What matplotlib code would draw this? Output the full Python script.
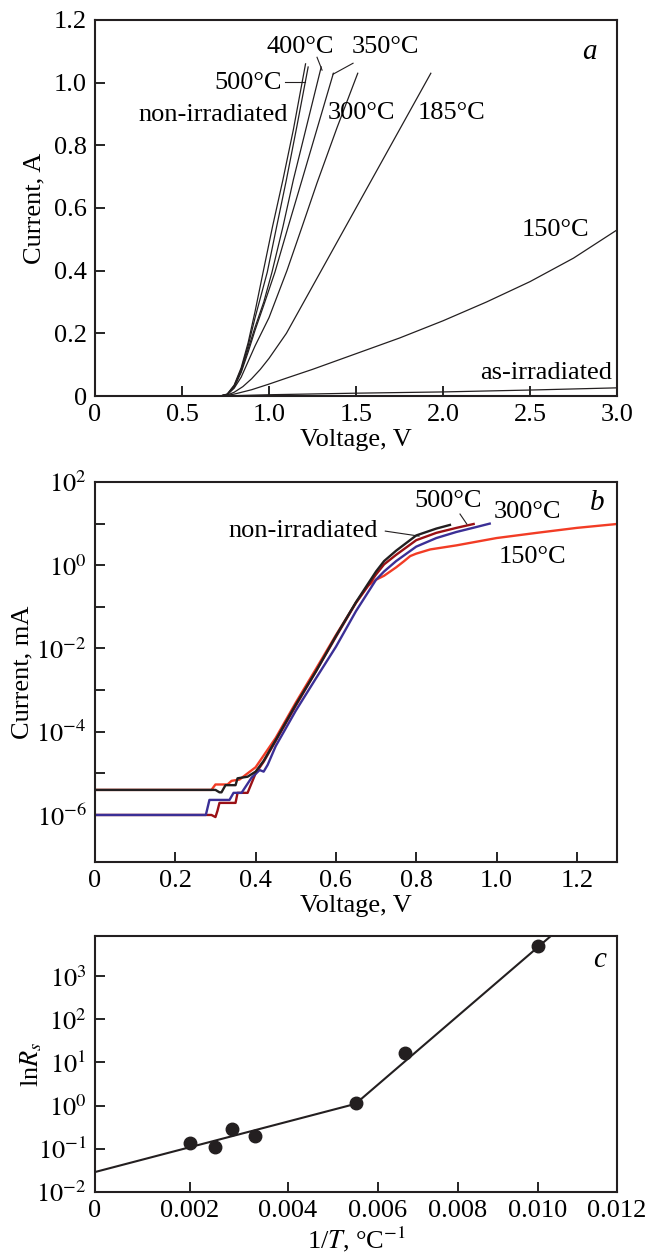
import numpy as np
import matplotlib
matplotlib.use("Agg")
import matplotlib.pyplot as plt
from matplotlib.ticker import FixedLocator, FuncFormatter, NullLocator

plt.rcParams['font.family'] = ['Liberation Serif', 'DejaVu Serif']
plt.rcParams['mathtext.fontset'] = 'stix'
plt.rcParams['font.size'] = 19

# ---- panel a: linear I-V, current in A ----
v_nonirr = [0, 0.72, 0.76, 0.80, 0.84, 0.88, 0.92, 0.966, 1.02, 1.08, 1.14, 1.21]
i_nonirr = [0, 0, 0.006, 0.035, 0.09, 0.17, 0.27, 0.395, 0.54, 0.69, 0.85, 1.06]
v_500 = [0, 0.72, 0.76, 0.80, 0.84, 0.88, 0.92, 0.99, 1.04, 1.10, 1.16, 1.225]
i_500 = [0, 0, 0.006, 0.033, 0.085, 0.16, 0.25, 0.395, 0.53, 0.69, 0.86, 1.05]
v_400 = [0, 0.72, 0.76, 0.80, 0.84, 0.88, 0.92, 0.97, 1.017, 1.08, 1.14, 1.22, 1.30]
i_400 = [0, 0, 0.005, 0.03, 0.08, 0.15, 0.22, 0.30, 0.395, 0.54, 0.69, 0.87, 1.05]
v_350 = [0, 0.72, 0.76, 0.80, 0.84, 0.88, 0.92, 0.97, 1.034, 1.11, 1.19, 1.28, 1.37]
i_350 = [0, 0, 0.005, 0.028, 0.075, 0.14, 0.21, 0.29, 0.395, 0.54, 0.69, 0.86, 1.03]
v_300 = [0, 0.72, 0.76, 0.80, 0.84, 0.88, 0.92, 1.0, 1.103, 1.19, 1.276, 1.39, 1.51]
i_300 = [0, 0, 0.004, 0.025, 0.06, 0.11, 0.16, 0.25, 0.40, 0.54, 0.68, 0.855, 1.03]
v_185 = [0, 0.72, 0.76, 0.80, 0.85, 0.90, 0.95, 1.0, 1.1, 1.2, 1.3, 1.4, 1.5, 1.62, 1.75, 1.85, 1.93]
i_185 = [0, 0, 0.003, 0.012, 0.03, 0.055, 0.085, 0.12, 0.2, 0.3, 0.4, 0.5, 0.6, 0.72, 0.85, 0.95, 1.03]
v_150 = [0, 0.72, 0.76, 0.80, 0.90, 1.0, 1.1, 1.25, 1.5, 1.75, 2.0, 2.25, 2.5, 2.75, 3.0]
i_150 = [0, 0, 0.002, 0.006, 0.02, 0.038, 0.057, 0.085, 0.135, 0.185, 0.24, 0.30, 0.365, 0.44, 0.53]
v_asirr = [0, 0.72, 0.76, 1.0, 1.5, 2.0, 2.5, 3.0]
i_asirr = [0, 0, 0.0005, 0.004, 0.009, 0.013, 0.019, 0.026]

# ---- panel b: semilog I-V, current in mA ----
vb_nonirr = [0, 0.30, 0.31, 0.315, 0.325, 0.35, 0.355, 0.38, 0.40, 0.42, 0.45,
             0.50, 0.55, 0.60, 0.65, 0.70, 0.72, 0.75, 0.80, 0.85, 0.884]
ib_nonirr = [4.0e-6, 4.0e-6, 3.5e-6, 3.5e-6, 5.2e-6, 5.2e-6, 7.6e-6, 8.3e-6, 1.1e-5, 2.0e-5, 6.3e-5,
             4.5e-4, 2.8e-3, 2.0e-2, 0.13, 0.71, 1.26, 2.24, 5.2, 7.6, 9.3]
vb_500 = [0, 0.29, 0.30, 0.305, 0.31, 0.35, 0.355, 0.38, 0.40, 0.42, 0.45,
          0.50, 0.55, 0.60, 0.65, 0.70, 0.72, 0.75, 0.80, 0.85, 0.90, 0.943]
ib_500 = [1e-6, 1e-6, 8.9e-7, 1.26e-6, 1.95e-6, 1.95e-6, 3.4e-6, 3.4e-6, 1.0e-5, 1.9e-5, 6.0e-5,
          4.2e-4, 2.8e-3, 1.9e-2, 0.126, 0.60, 1.05, 1.78, 4.0, 6.0, 7.9, 9.8]
vb_300 = [0, 0.276, 0.285, 0.335, 0.345, 0.365, 0.39, 0.41, 0.42, 0.43, 0.45,
          0.50, 0.55, 0.60, 0.65, 0.70, 0.72, 0.75, 0.80, 0.85, 0.90, 0.95, 0.983]
ib_300 = [1e-6, 1e-6, 2.3e-6, 2.3e-6, 3.4e-6, 3.4e-6, 7.9e-6, 1.2e-5, 1.1e-5, 1.6e-5, 4.5e-5,
          3.2e-4, 1.9e-3, 1.1e-2, 7.9e-2, 0.45, 0.71, 1.26, 2.8, 4.5, 6.3, 8.3, 10.0]
vb_150 = [0, 0.29, 0.30, 0.33, 0.34, 0.36, 0.38, 0.40, 0.45, 0.50, 0.55, 0.60,
          0.65, 0.68, 0.70, 0.72, 0.75, 0.77, 0.785, 0.80, 0.835, 0.90, 1.0, 1.1, 1.2, 1.3]
ib_150 = [4.0e-6, 4.0e-6, 5.4e-6, 5.4e-6, 6.6e-6, 7.1e-6, 1.0e-5, 1.4e-5, 7.1e-5, 5.0e-4, 3.2e-3, 2.1e-2,
          0.126, 0.32, 0.45, 0.56, 0.89, 1.26, 1.66, 1.9, 2.4, 3.0, 4.5, 6.0, 7.9, 9.8]

# ---- panel c: ln Rs vs 1/T ----
inv_t = [0.002, 0.0025, 0.00286, 0.00333, 0.0055, 0.00667, 0.0100]
ln_rs = [0.134, 0.11, 0.285, 0.195, 1.13, 17, 5000]
fit_x = [0, 0.0055, 0.0106]
fit_y = [0.029, 1.1, 1.4e4]
# the printed 1/T axis is not evenly spaced; tick -> fraction of axis width
c_ticks = [0, 0.002, 0.004, 0.006, 0.008, 0.010, 0.012]
c_tick_pos = [0, 95 / 522, 193 / 522, 283 / 522, 363 / 522, 443 / 522, 1.0]

fig = plt.figure(figsize=(6.6, 12.59), dpi=100)
L, W = 95 / 660, 522 / 660
H = 1259
ax_a = fig.add_axes([L, 1 - 396 / H, W, 376 / H])
ax_b = fig.add_axes([L, 1 - 862 / H, W, 380 / H])
ax_c = fig.add_axes([L, 1 - 1192 / H, W, 256 / H])

for ax in (ax_a, ax_b, ax_c):
    ax.tick_params(direction='in', length=7, width=1.2, labelsize=19, pad=6)
    ax.tick_params(which='minor', length=0)
    for s in ax.spines.values():
        s.set_linewidth(1.5)
        s.set_color('#231f20')

ink = '#231f20'

# panel a
for v, i in [(v_nonirr, i_nonirr), (v_500, i_500), (v_400, i_400), (v_350, i_350),
             (v_300, i_300), (v_185, i_185), (v_150, i_150), (v_asirr, i_asirr)]:
    ax_a.plot(v, i, color=ink, lw=0.9)
ax_a.set_xlim(0, 3.0)
ax_a.set_ylim(0, 1.2)
ax_a.set_xticks([0, 0.5, 1.0, 1.5, 2.0, 2.5, 3.0])
ax_a.set_xticklabels(['0', '0.5', '1.0', '1.5', '2.0', '2.5', '3.0'])
ax_a.set_yticks([0, 0.2, 0.4, 0.6, 0.8, 1.0, 1.2])
ax_a.set_yticklabels(['0', '0.2', '0.4', '0.6', '0.8', '1.0', '1.2'])
ax_a.set_xlabel('Voltage, V', labelpad=2)
ax_a.set_ylabel('Current, A', labelpad=6)

ax_a.text(1.18, 1.113, '400°C', ha='center', va='center')
ax_a.text(1.667, 1.113, '350°C', ha='center', va='center')
ax_a.plot([1.276, 1.305], [1.081, 1.04], color=ink, lw=0.8)
ax_a.plot([1.483, 1.368], [1.062, 1.027], color=ink, lw=0.8)
ax_a.text(1.075, 0.998, '500°C', ha='right', va='center')
ax_a.plot([1.092, 1.207], [1.002, 1.002], color=ink, lw=0.8)
ax_a.text(1.109, 0.896, 'non-irradiated', ha='right', va='center')
ax_a.text(1.339, 0.903, '300°C', ha='left', va='center')
ax_a.text(1.856, 0.903, '185°C', ha='left', va='center')
ax_a.text(2.454, 0.53, '150°C', ha='left', va='center')
ax_a.text(2.97, 0.073, 'as-irradiated', ha='right', va='center')
ax_a.text(0.948, 0.915, 'a', transform=ax_a.transAxes, ha='center', va='center',
          style='italic', fontsize=21)

# panel b
ax_b.plot(vb_150, ib_150, color='#f23c25', lw=1.7)
ax_b.plot(vb_500, ib_500, color='#9a1015', lw=1.7)
ax_b.plot(vb_300, ib_300, color='#3b2f96', lw=1.7)
ax_b.plot(vb_nonirr, ib_nonirr, color=ink, lw=1.7)
ax_b.set_yscale('log')
ax_b.set_xlim(0, 1.3)
ax_b.set_ylim(10 ** -7.13, 1e2)
ax_b.yaxis.set_major_locator(FixedLocator([10.0 ** k for k in range(-6, 3)]))
ax_b.yaxis.set_minor_locator(NullLocator())
ax_b.yaxis.set_major_formatter(FuncFormatter(
    lambda y, p: '$10^{%d}$' % round(np.log10(y)) if round(np.log10(y)) % 2 == 0 else ''))
ax_b.set_xticks([0, 0.2, 0.4, 0.6, 0.8, 1.0, 1.2])
ax_b.set_xticklabels(['0', '0.2', '0.4', '0.6', '0.8', '1.0', '1.2'])
ax_b.set_xlabel('Voltage, V', labelpad=2)
ax_b.set_ylabel('Current, mA', labelpad=2)

ax_b.text(0.88, 10 ** 1.54, '500°C', ha='center', va='center')
ax_b.plot([0.909, 0.926], [10 ** 1.23, 10 ** 0.99], color=ink, lw=0.8)
ax_b.text(1.077, 10 ** 1.28, '300°C', ha='center', va='center')
ax_b.text(1.089, 10 ** 0.19, '150°C', ha='center', va='center')
ax_b.text(0.704, 10 ** 0.82, 'non-irradiated', ha='right', va='center')
ax_b.plot([0.723, 0.807], [10 ** 0.82, 10 ** 0.70], color=ink, lw=0.8)
ax_b.text(0.963, 0.945, 'b', transform=ax_b.transAxes, ha='center', va='center',
          style='italic', fontsize=21)

# panel c
ax_c.set_xscale('function', functions=(lambda x: np.interp(x, c_ticks, c_tick_pos),
                                       lambda p: np.interp(p, c_tick_pos, c_ticks)))
ax_c.plot(fit_x, fit_y, color=ink, lw=1.5)
ax_c.plot(inv_t, ln_rs, 'o', color=ink, ms=9)
ax_c.set_yscale('log')
ax_c.set_xlim(0, 0.012)
ax_c.set_ylim(1e-2, 10 ** 3.93)
ax_c.yaxis.set_major_locator(FixedLocator([10.0 ** k for k in range(-2, 4)]))
ax_c.yaxis.set_minor_locator(NullLocator())
ax_c.yaxis.set_major_formatter(FuncFormatter(lambda y, p: '$10^{%d}$' % round(np.log10(y))))
ax_c.xaxis.set_major_locator(FixedLocator(c_ticks))
ax_c.xaxis.set_minor_locator(NullLocator())
ax_c.set_xticklabels(['0', '0.002', '0.004', '0.006', '0.008', '0.010', '0.012'])
ax_c.set_xlabel('1/$T$, °C$^{-1}$', labelpad=2)
ax_c.set_ylabel('ln$R_s$')
ax_c.yaxis.set_label_coords(-0.098, 0.5)
ax_c.text(0.967, 0.906, 'c', transform=ax_c.transAxes, ha='center', va='center',
          style='italic', fontsize=21)

fig.savefig('out.png', dpi=100)
